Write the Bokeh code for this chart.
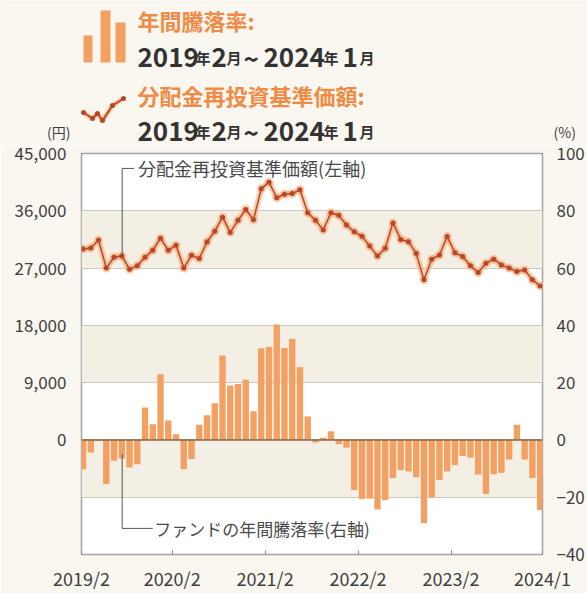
from bokeh.plotting import figure
from bokeh.models import Range1d, LinearAxis, FixedTicker, NumeralTickFormatter, BoxAnnotation, Span
from bokeh.layouts import column
from bokeh.core.properties import value
from bokeh.embed import file_html
from bokeh.resources import INLINE

FONT = "Noto Sans CJK JP"
BG = "#faf7f0"
ORANGE_TXT = "#f08a45"
BAR_COLOR = "#f4a062"
LINE_COLOR = "#b4472f"
HALO = "#f9b07a"
BAND = "#f3efe4"
TXT = "#3f3f3f"

# ---- data (monthly, 2019/2 .. 2024/1) ----
nav = [30000, 30150, 31400, 27000, 28700, 28900, 26800, 27350, 28700, 29800,
       31700, 29800, 30600, 27000, 29000, 28500, 31100, 32800, 35000, 32600,
       34500, 36200, 34600, 39450, 40500, 38050, 38600, 38700, 39300, 35700,
       34500, 33000, 35700, 35300, 33750, 32700, 32000, 30450, 28900, 30100,
       34100, 31500, 31150, 29300, 25150, 28400, 29050, 31950, 29400, 28800,
       27350, 26300, 27750, 28400, 27500, 27000, 26450, 26700, 25150, 24200]
annual_return = [-10.2, -4.4, -0.3, -15.4, -7.3, -6.5, -9.6, -8.5, 11.3, 5.5,
                 22.9, 6.8, 2.0, -10.2, -6.7, 5.3, 8.6, 12.8, 29.5, 19.0,
                 19.5, 21.0, 10.0, 32.0, 32.5, 40.3, 32.1, 35.3, 25.4, 8.2,
                 -0.9, 0.8, 3.0, -1.5, -2.7, -17.5, -20.6, -20.5, -24.3, -21.0,
                 -13.3, -10.5, -11.0, -13.0, -29.0, -20.0, -14.0, -11.0, -8.8, -5.6,
                 -6.2, -12.1, -18.9, -12.0, -11.5, -6.8, 5.3, -6.8, -13.3, -24.5]
x_tick_labels = ["2019/2", "2020/2", "2021/2", "2022/2", "2023/2", "2024/1"]
left_ticks = [0, 9000, 18000, 27000, 36000, 45000]
right_ticks = [-40, -20, 0, 20, 40, 60, 80, 100]
band_edges = [(27000, 36000), (9000, 18000), (-9000, 0)]

idx = list(range(len(nav)))
x_tick_pos = [-0.2, 11.5, 23.5, 35.5, 47.5, 59.3]

W = 587
HH = 145  # header height


def hy(v):
    """header screen y (from top) -> header data y (from bottom)"""
    return HH - v


# ---- header ----
h = figure(width=W, height=HH, x_range=Range1d(0, W), y_range=Range1d(0, HH),
           output_backend="svg", toolbar_location=None, title=None,
           min_border_left=0, min_border_right=0, min_border_top=0, min_border_bottom=0,
           x_axis_location=None, y_axis_location=None)
h.frame_align = False
h.grid.visible = False
h.outline_line_color = None
h.background_fill_color = BG
h.border_fill_color = BG

# bar icon
h.quad(left=[83, 100, 115], right=[92, 110, 125], top=[hy(35), hy(10), hy(22)],
       bottom=[hy(62)] * 3, fill_color=BAR_COLOR, line_color=None)
# line icon
ix = [83, 92, 97, 102, 112, 123]
iy = [hy(v) for v in [112, 118, 113, 120, 105, 98]]
h.line(ix, iy, line_color=HALO, line_width=5, line_alpha=0.7)
h.line(ix, iy, line_color=LINE_COLOR, line_width=2)
h.scatter(ix, iy, size=5, fill_color=LINE_COLOR, line_color=None)

h.text(x=[137], y=[hy(19)], text=["年間騰落率:"], text_font=value(FONT), text_font_style="bold",
       text_font_size="22px", text_color=ORANGE_TXT, text_baseline="middle")
h.text(x=[137], y=[hy(94)], text=["分配金再投資基準価額:"], text_font=value(FONT), text_font_style="bold",
       text_font_size="22px", text_color=ORANGE_TXT, text_baseline="middle")

big = ["2019", "2", "~", "2024", "1"]
big_x = [137, 211, 243, 263, 342]
small = ["年", "月", "年", "月"]
small_x = [195, 226, 323, 359]
for base in (57, 131):
    h.text(x=big_x, y=[hy(base)] * len(big), text=big, text_font=value(FONT), text_font_style="bold",
           text_font_size="26px", text_color="#333333", text_baseline="alphabetic")
    h.text(x=small_x, y=[hy(base)] * len(small), text=small, text_font=value(FONT), text_font_style="bold",
           text_font_size="15px", text_color="#333333", text_baseline="alphabetic")

h.text(x=[70], y=[hy(131)], text=["(円)"], text_font=value(FONT), text_font_size="14px",
       text_color=TXT, text_align="right", text_baseline="middle")
h.text(x=[553], y=[hy(131)], text=["(%)"], text_font=value(FONT), text_font_size="14px",
       text_color=TXT, text_align="left", text_baseline="middle")

# ---- main chart ----
p = figure(width=W, height=448, x_range=Range1d(-0.2, 59.3), y_range=Range1d(-18000, 45000),
           output_backend="svg", toolbar_location=None,
           min_border_left=81, min_border_right=42, min_border_top=8, min_border_bottom=36)
p.frame_align = False
p.extra_y_ranges = {"pct": Range1d(-40, 100)}
p.background_fill_color = "#ffffff"
p.border_fill_color = BG
p.outline_line_color = "#a3a3a3"
p.outline_line_width = 1.5

bands = [BoxAnnotation(bottom=b, top=t, fill_color=BAND, fill_alpha=1.0, line_alpha=0,
                       level="underlay") for b, t in band_edges]
p.center = bands + list(p.center)

p.xgrid.visible = False
p.ygrid.ticker = FixedTicker(ticks=[-9000, 0, 9000, 18000, 27000, 36000])
p.ygrid.grid_line_color = "#cdc9c0"
p.ygrid.grid_line_width = 1

p.vbar(x=idx, top=annual_return, width=0.82, y_range_name="pct",
       fill_color=BAR_COLOR, line_color=None)
p.add_layout(Span(location=0, dimension="width", line_color="#8a6346", line_width=1.5))

p.line(idx, nav, line_color=HALO, line_width=6, line_alpha=0.65)
p.scatter(idx, nav, size=9, fill_color=HALO, fill_alpha=0.65, line_color=None)
p.line(idx, nav, line_color=LINE_COLOR, line_width=1.5)
p.scatter(idx, nav, size=5, fill_color=LINE_COLOR, line_color=None)

# annotations with leader lines
p.line([6.6, 5.05, 5.05], [42656, 42656, 28900], line_color="#555555", line_width=1)
p.text(x=[7.1], y=[42656], text=["分配金再投資基準価額(左軸)"], text_font=value(FONT),
       text_font_size="18px", text_color="#4a4a4a", text_baseline="middle")
p.line([5.05, 5.05, 9.0], [-2200, -13900, -13900], line_color="#555555", line_width=1)
p.text(x=[9.2], y=[-13900], text=["ファンドの年間騰落率(右軸)"], text_font=value(FONT),
       text_font_size="17px", text_color="#4a4a4a", text_baseline="middle")

# axes
ya = p.yaxis[0]
ya.ticker = FixedTicker(ticks=left_ticks)
ya.formatter = NumeralTickFormatter(format="0,0")

ra = LinearAxis(y_range_name="pct", ticker=FixedTicker(ticks=right_ticks))
p.add_layout(ra, "right")

for ax in (ya, ra):
    ax.axis_line_color = None
    ax.major_tick_line_color = None
    ax.minor_tick_line_color = None
    ax.major_label_text_font = FONT
    ax.major_label_text_font_size = "17px"
    ax.major_label_text_color = TXT
ya.major_label_standoff = 9
ra.major_label_standoff = 8

xa = p.xaxis[0]
xa.ticker = FixedTicker(ticks=x_tick_pos)
xa.major_label_overrides = {t: lab for t, lab in zip(x_tick_pos, x_tick_labels)}
xa.axis_line_color = None
xa.major_tick_in = 4
xa.major_tick_out = 0
xa.major_tick_line_color = "#888888"
xa.minor_tick_line_color = None
xa.major_label_text_font = FONT
xa.major_label_text_font_size = "18px"
xa.major_label_text_color = TXT
xa.major_label_standoff = 10

layout = column(h, p, spacing=0)
open("out.html", "w").write(file_html(layout, INLINE))
